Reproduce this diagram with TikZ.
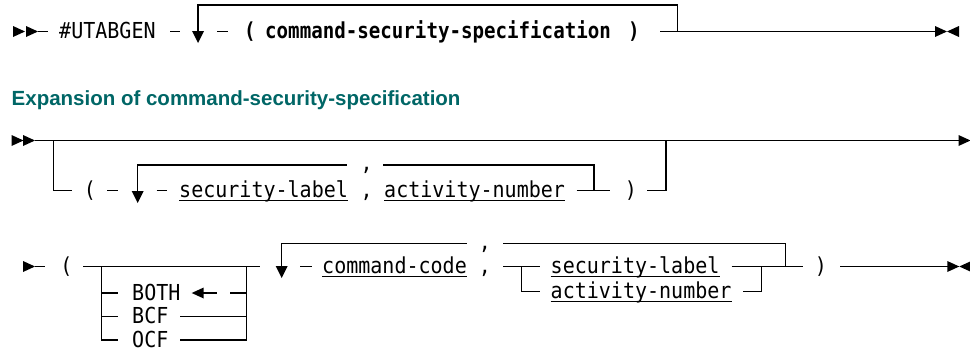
\documentclass[tikz,border=0pt]{standalone}
\usepackage{fontspec}
\newfontfamily\mono[FakeStretch=0.91]{DejaVu Sans Mono}
\newfontfamily\monob[FakeStretch=0.87]{DejaVu Sans Mono Bold}
\newfontfamily\headfam{Liberation Sans}
\definecolor{headteal}{RGB}{0,102,102}
\newcommand\MonoR{\mono\fontsize{22}{26}\selectfont}
\newcommand\MonoB{\monob\fontsize{22}{26}\selectfont}
\newcommand\RailR[1]{\fill #1 -- ++(-12,-5.5) -- ++(0,11) -- cycle;}
\newcommand\RailL[1]{\fill #1 -- ++(12,-5.5) -- ++(0,11) -- cycle;}
\newcommand\RailD[1]{\fill #1 -- ++(-6,-12) -- ++(12,0) -- cycle;}
\tikzset{
  rail/.style={line width=1.1pt},
  txt/.style={anchor=base west, inner sep=0pt, font=\MonoR},
  txtc/.style={anchor=base, inner sep=0pt, font=\MonoR},
  btxt/.style={anchor=base west, inner sep=0pt, font=\MonoB},
  btxtc/.style={anchor=base, inner sep=0pt, font=\MonoB},
  ul/.style={line width=1.1pt}
}
\begin{document}
\begin{tikzpicture}[x=1pt,y=-1pt]
\useasboundingbox (0,0) rectangle (970,351);
% ---------- Row 1 ----------
\RailR{(25,31.5)}
\RailR{(38,31.5)}
\draw[rail] (38,31.5) -- (48,31.5);
\node[txt] (ut) at (59,38.5) {\#UTABGEN};
\draw[rail] (170,31.5) -- (180,31.5);
\draw[rail] (198,33) -- (198,5) -- (677.5,5) -- (677.5,31.5);
\RailD{(198,43)}
\draw[rail] (217,31.5) -- (228,31.5);
\node[btxtc] (lp1) at (250,38.5) {(};
\node[btxt] (css) at (265,38.5) {command-security-specification};
\node[btxtc] (rp1) at (634,38.5) {)};
\draw[rail] (660,31.5) -- (937,31.5);
\RailR{(947,31.5)}
\RailL{(947,31.5)}
% ---------- Heading ----------
\node[anchor=base west, inner sep=0pt, text=headteal,
      font=\headfam\bfseries\fontsize{20.5}{24}\selectfont] (head) at (11.5,105)
      {Expansion of command-security-specification};
% ---------- Row 2 ----------
\RailR{(23.5,140.5)}
\RailR{(35,140.5)}
\draw[rail] (35,140.5) -- (960,140.5);
\RailR{(970.5,140.5)}
\draw[rail] (53.5,140.5) -- (53.5,190.7) -- (71.7,190.7);
\node[txtc] (lp2) at (90,197.5) {(};
\draw[rail] (107,190.7) -- (118,190.7);
\draw[rail] (137.7,192) -- (137.7,165) -- (346.7,165);
\draw[rail] (383,165) -- (594,165) -- (594,190.7);
\RailD{(137.7,203)}
\node[txtc] (uc2) at (366.7,170.5) {,};
\draw[rail] (156.7,190.7) -- (166.7,190.7);
\node[txt] (sl2) at (179,197.5) {security-label};
\node[txtc] (c2) at (366.7,197.5) {,};
\node[txt] (an2) at (384,197.5) {activity-number};
\draw[ul] ([yshift=-3pt]sl2.base west) -- ([yshift=-3pt]sl2.base east);
\draw[ul] ([yshift=-3pt]an2.base west) -- ([yshift=-3pt]an2.base east);
\draw[rail] (576.7,190.7) -- (610,190.7);
\node[txtc] (rp2) at (631,197.5) {)};
\draw[rail] (647,190.7) -- (666,190.7) -- (666,140.5);
% ---------- Row 3 ----------
\RailR{(35,266.5)}
\draw[rail] (35,266.5) -- (45,266.5);
\node[txtc] (lp3) at (66.5,273.5) {(};
\draw[rail] (83,266.5) -- (260,266.5);
\draw[rail] (101.7,266.5) -- (101.7,340) -- (118.3,340);
\draw[rail] (101.7,293) -- (118.3,293);
\draw[rail] (101.7,316.5) -- (118.3,316.5);
\draw[rail] (246.7,266.5) -- (246.7,340);
\draw[rail] (230,293) -- (246.7,293);
\draw[rail] (180,316.5) -- (246.7,316.5);
\draw[rail] (180,340) -- (246.7,340);
\node[txt] (both) at (132,300) {BOTH};
\RailL{(191.7,293)}
\draw[rail] (202,293) -- (216.7,293);
\node[txt] (bcf) at (132,323.5) {BCF};
\node[txt] (ocf) at (132,347) {OCF};
\draw[rail] (281.7,268) -- (281.7,243.3) -- (466.7,243.3);
\draw[rail] (503,243.3) -- (785.7,243.3) -- (785.7,266.5);
\RailD{(281.7,278)}
\node[txtc] (uc3) at (485,249) {,};
\draw[rail] (300,266.5) -- (311.7,266.5);
\node[txt] (cc) at (322,273.5) {command-code};
\draw[ul] ([yshift=-3pt]cc.base west) -- ([yshift=-3pt]cc.base east);
\node[txtc] (c3) at (485,273.5) {,};
\draw[rail] (503,266.5) -- (540,266.5);
\draw[rail] (521.7,266.5) -- (521.7,291.7) -- (540,291.7);
\node[txt] (sl3) at (550.5,273.5) {security-label};
\node[txt] (an3) at (550.5,298.5) {activity-number};
\draw[ul] ([yshift=-3pt]sl3.base west) -- ([yshift=-3pt]sl3.base east);
\draw[ul] ([yshift=-3pt]an3.base west) -- ([yshift=-3pt]an3.base east);
\draw[rail] (731.7,266.5) -- (803.3,266.5);
\draw[rail] (743,291.7) -- (761.7,291.7) -- (761.7,266.5);
\node[txtc] (rp3) at (821,273.5) {)};
\draw[rail] (840,266.5) -- (948,266.5);
\RailR{(959.3,266.5)}
\RailL{(959.3,266.5)}
\end{tikzpicture}
\end{document}
